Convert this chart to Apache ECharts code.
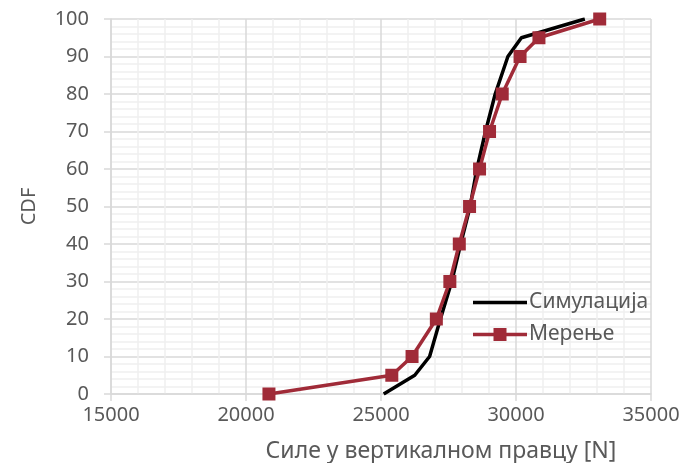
<!DOCTYPE html>
<html>
<head>
<meta charset="utf-8">
<script src="https://cdn.jsdelivr.net/npm/echarts@6/dist/echarts.min.js"></script>
<style>
  html, body { margin: 0; padding: 0; background: #ffffff; }
  #chart { width: 689px; height: 463px; }
</style>
</head>
<body>
<div id="chart"></div>
<script>
// Simulated CDF: force [N] and cumulative percentage
const simForce = [25100, 26250, 26800, 27200, 27620, 27950, 28300, 28550, 28870, 29230, 29700, 30200, 32550];
const simCdf   = [0, 5, 10, 20, 30, 40, 50, 60, 70, 80, 90, 95, 100];

// Measured CDF
const measForce = [20850, 25400, 26150, 27050, 27550, 27900, 28280, 28650, 29020, 29490, 30150, 30850, 33100];
const measCdf   = [0, 5, 10, 20, 30, 40, 50, 60, 70, 80, 90, 95, 100];

const seriesNames = ['Симулација', 'Мерење'];
const xTitle = 'Силе у вертикалном правцу [N]';
const yTitle = 'CDF';

const pair = (xs, ys) => xs.map((x, i) => [x, ys[i]]);

const textColor = '#595959';
const font = 'Noto Sans';
const simColor = '#000000';
const measColor = '#a02b38';

// Legend glyphs: a thick line, and a thick line with a square marker
const lineIcon = 'path://M0,4.75h54v3.5h-54z';
const lineRectIcon = 'path://M0,4.75h21v3.5h-21z M20.5,0h13v13h-13z M33,4.75h21v3.5h-21z';

const chart = echarts.init(document.getElementById('chart'), null, { renderer: 'canvas' });
chart.setOption({
  animation: false,
  backgroundColor: '#ffffff',
  textStyle: { fontFamily: font },
  grid: { left: 111, right: 38, top: 19, bottom: 69, containLabel: false, outerBoundsMode: 'none' },
  legend: {
    orient: 'vertical',
    left: 473,
    top: 292,
    padding: 0,
    itemWidth: 54,
    itemHeight: 13,
    itemGap: 11,
    textStyle: { fontFamily: font, fontSize: 21, color: textColor, padding: [0, 0, 0, -3] },
    data: [
      { name: seriesNames[0], icon: lineIcon, itemStyle: { color: simColor } },
      { name: seriesNames[1], icon: lineRectIcon, itemStyle: { color: measColor } }
    ]
  },
  xAxis: {
    type: 'value',
    min: 15000,
    max: 35000,
    interval: 5000,
    name: xTitle,
    nameLocation: 'middle',
    nameGap: 46,
    nameTextStyle: { fontFamily: font, fontSize: 23, color: textColor, padding: [0, 0, 0, 120] },
    axisLine: { show: true, lineStyle: { color: '#d9d9d9', width: 1.5 } },
    axisTick: { show: true, length: 7, lineStyle: { color: '#d9d9d9', width: 1.5 } },
    axisLabel: { fontFamily: font, fontSize: 20, color: textColor, margin: 11, formatter: v => String(v) },
    splitLine: { show: true, lineStyle: { color: '#d9d9d9', width: 1.5 } },
    minorTick: { show: false, splitNumber: 5 },
    minorSplitLine: { show: true, lineStyle: { color: '#f0f0f0', width: 1.5 } }
  },
  yAxis: {
    type: 'value',
    min: 0,
    max: 100,
    interval: 10,
    name: yTitle,
    nameLocation: 'middle',
    nameGap: 72,
    nameRotate: 90,
    nameTextStyle: { fontFamily: font, fontSize: 20, color: textColor },
    axisLine: { show: true, lineStyle: { color: '#d9d9d9', width: 1.5 } },
    axisTick: { show: true, length: 7, lineStyle: { color: '#d9d9d9', width: 1.5 } },
    axisLabel: { fontFamily: font, fontSize: 20, color: textColor, margin: 22 },
    splitLine: { show: true, lineStyle: { color: '#d9d9d9', width: 1.5 } },
    minorTick: { show: false, splitNumber: 5 },
    minorSplitLine: { show: true, lineStyle: { color: '#f0f0f0', width: 1.5 } }
  },
  series: [
    {
      name: seriesNames[0],
      type: 'line',
      data: pair(simForce, simCdf),
      showSymbol: false,
      symbol: 'none',
      lineStyle: { color: simColor, width: 3.5 },
      itemStyle: { color: simColor },
      z: 2
    },
    {
      name: seriesNames[1],
      type: 'line',
      data: pair(measForce, measCdf),
      symbol: 'rect',
      symbolSize: 13,
      lineStyle: { color: measColor, width: 3.5 },
      itemStyle: { color: measColor },
      z: 3
    }
  ]
});
</script>
</body>
</html>
